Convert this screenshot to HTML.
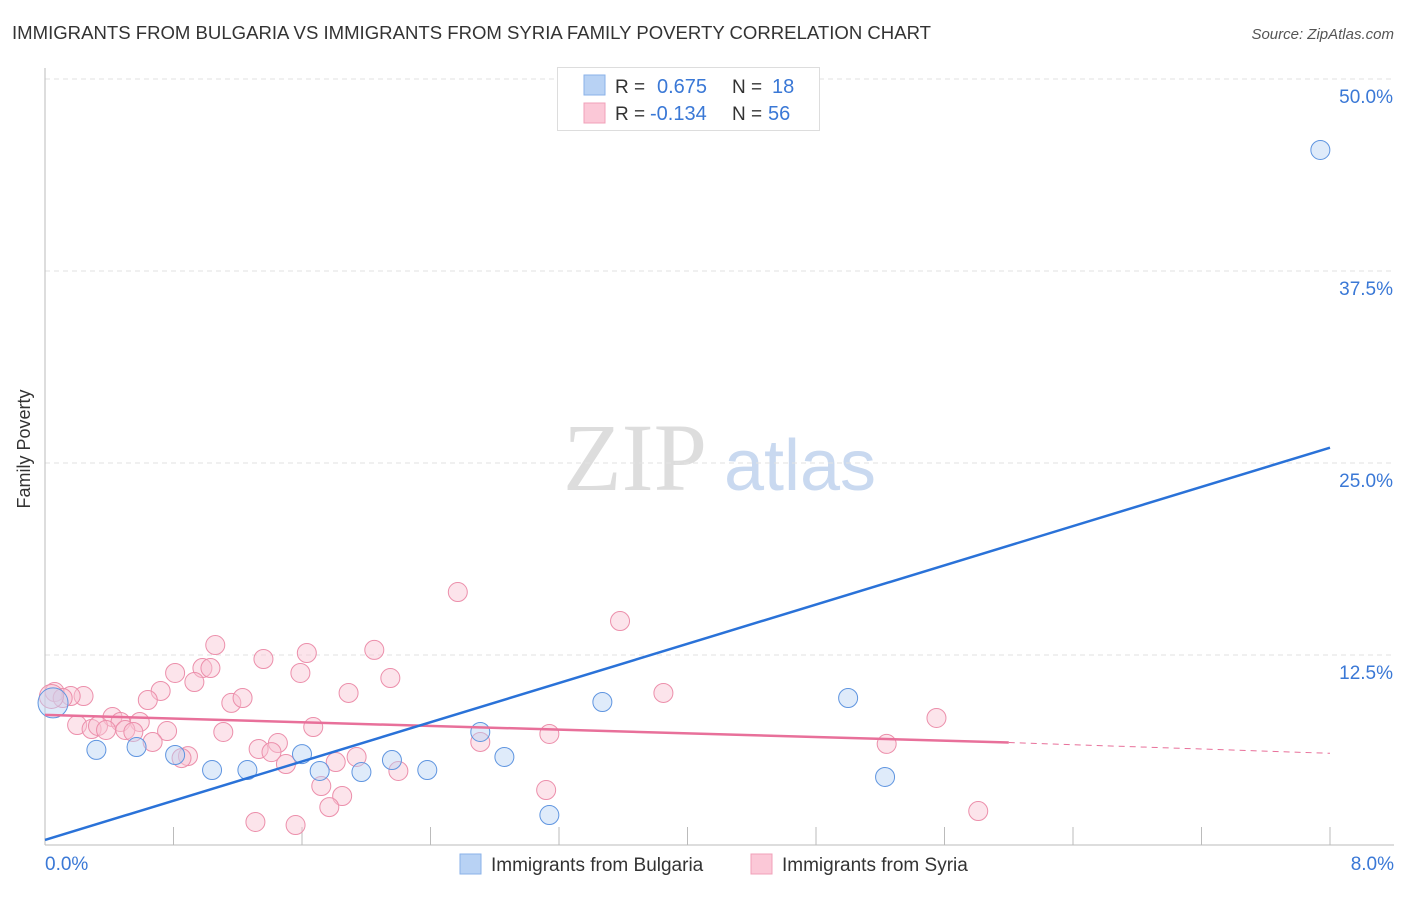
<!DOCTYPE html>
<html><head><meta charset="utf-8"><style>
body{margin:0;background:#fff;font-family:"Liberation Sans",sans-serif;}
svg text{font-family:"Liberation Sans",sans-serif;}
</style></head><body>
<svg id="chart" width="1406" height="892">
<text x="12" y="39" font-size="18" fill="#333" textLength="919" lengthAdjust="spacingAndGlyphs">IMMIGRANTS FROM BULGARIA VS IMMIGRANTS FROM SYRIA FAMILY POVERTY CORRELATION CHART</text>
<text x="1394" y="39" font-size="15" fill="#555" text-anchor="end" font-style="italic">Source: ZipAtlas.com</text>
<text x="38" y="457" font-size="18" fill="#333" text-anchor="middle" transform="rotate(-90 30 457)">Family Poverty</text>
<g>
<text x="635" y="490" font-size="96" fill="#ddd" text-anchor="middle" style="font-family:'Liberation Serif',serif">ZIP</text>
<text x="800" y="490" font-size="72" fill="#c9d9f0" text-anchor="middle">atlas</text>
</g>
<g id="grid"></g><g id="axes"></g><g id="marks"></g>
<g>
<rect x="557.5" y="67.5" width="262" height="63" fill="#fff" stroke="#ddd"/>
<rect x="584" y="75" width="21" height="20" fill="#b8d2f4" stroke="#8ab2e8"/>
<rect x="584" y="103" width="21" height="20" fill="#fbc8d7" stroke="#f0a0b8"/>
<text x="615" y="93" font-size="19" fill="#333">R = </text>
<text x="657" y="93" font-size="20" fill="#3a78d6">0.675</text>
<text x="732" y="93" font-size="19" fill="#333">N = </text>
<text x="772" y="93" font-size="20" fill="#3a78d6">18</text>
<text x="615" y="120" font-size="19" fill="#333">R = </text>
<text x="650" y="120" font-size="20" fill="#3a78d6">-0.134</text>
<text x="732" y="120" font-size="19" fill="#333">N = </text>
<text x="768" y="120" font-size="20" fill="#3a78d6">56</text>
</g>
<g>
<rect x="460" y="854" width="21" height="20" fill="#b8d2f4" stroke="#8ab2e8"/>
<text x="491" y="871" font-size="19" fill="#333">Immigrants from Bulgaria</text>
<rect x="751" y="854" width="21" height="20" fill="#fbc8d7" stroke="#f0a0b8"/>
<text x="782" y="871" font-size="19" fill="#333">Immigrants from Syria</text>
</g>
</svg>
<script>
const yTicks=[12.5,25,37.5,50];
const yTickLabels=["12.5%","25.0%","37.5%","50.0%"];
const xTickLabels=["0.0%","8.0%"];
const bulgariaX=[0.05,0.32,0.57,0.81,1.04,1.26,1.60,1.71,1.97,2.16,2.38,2.71,2.86,3.47,3.14,5.00,5.23,7.94];
const bulgariaY=[9.38,6.32,6.51,5.99,5.01,5.01,6.05,4.95,4.88,5.66,5.01,7.49,5.86,9.44,2.08,9.70,4.56,45.38];
const syriaX=[2.57,1.06,0.98,1.03,0.81,0.93,0.72,0.64,1.36,1.63,1.59,2.05,2.15,1.89,1.16,1.23,0.24,0.16,0.06,0.11,0.42,0.47,0.59,0.20,0.29,0.33,0.38,0.50,0.55,0.76,0.67,1.11,1.67,1.33,1.45,1.41,0.89,0.85,1.50,1.81,1.94,2.20,1.72,1.85,1.77,1.31,1.56,2.71,3.58,3.85,3.14,3.12,5.55,5.24,5.81,0.04];
const syriaY=[16.60,13.15,11.65,11.65,11.33,10.74,10.16,9.57,12.24,12.63,11.33,12.83,11.00,10.03,9.38,9.70,9.83,9.83,10.09,9.70,8.46,8.14,8.14,7.94,7.68,7.88,7.62,7.62,7.49,7.55,6.84,7.49,7.81,6.38,6.77,6.18,5.92,5.79,5.40,5.53,5.86,4.95,3.97,3.32,2.60,1.63,1.43,6.84,14.71,10.03,7.36,3.71,8.40,6.71,2.34,9.8];
const blueTrend=[0.46,26.0];
const pinkTrend=[8.6,6.8,6.1];
const pinkTrendEndX=6.0;
const X=v=>45+v*160.625, Y=v=>847-v*15.36;
const NS="http://www.w3.org/2000/svg";
function mk(tag,attrs,parent){const e=document.createElementNS(NS,tag);for(const k in attrs)e.setAttribute(k,attrs[k]);document.getElementById(parent).appendChild(e);return e;}
yTicks.forEach((t,i)=>{
 const g=mk('line',{x1:45,x2:1394,y1:Y(t),y2:Y(t),stroke:'#e2e2e2','stroke-dasharray':'5,4'},'grid');
 
 
 const l=mk('text',{x:1393,y:Y(t)+24,'font-size':19,fill:'#3a78d6','text-anchor':'end'},'axes');
 l.textContent=yTickLabels[i];
 
 
});
const ax=mk('line',{x1:45,x2:45,y1:68,y2:845,stroke:'#bbb'},'axes');


const bx=mk('line',{x1:45,x2:1394,y1:845,y2:845,stroke:'#bbb'},'axes');


for(let i=1;i<=10;i++){const t=mk('line',{x1:X(i*0.8),x2:X(i*0.8),y1:827,y2:845,stroke:'#bbb'},'axes');
 
 }
[[0,'start',45],[8,'end',1394]].forEach((d,i)=>{const t=mk('text',{x:d[2],y:870,'font-size':19,fill:'#3a78d6','text-anchor':d[1]},'axes');t.textContent=xTickLabels[i];
 
 });
function dots(xs,ys,fill,stroke,name){xs.forEach((x,i)=>{const big=(i===0&&name==='bulgaria-point');
 const mid=(name==='syria-point'&&i===xs.length-1);
 const c=mk('circle',{cx:X(x),cy:Y(ys[i]),r:big?15:(mid?12:9.5),fill:fill,'fill-opacity':0.45,stroke:stroke,'stroke-width':1},'marks');
 
 });}
dots(syriaX,syriaY,'#f9c3d3','#ec8fab','syria-point');
dots(bulgariaX,bulgariaY,'#b8d2f4','#5f95e0','bulgaria-point');
const pl=mk('line',{x1:X(0),y1:Y(pinkTrend[0]),x2:X(pinkTrendEndX),y2:Y(pinkTrend[1]),stroke:'#e8709a','stroke-width':2.5},'marks');


const pd=mk('line',{x1:X(pinkTrendEndX),y1:Y(pinkTrend[1]),x2:X(8),y2:Y(pinkTrend[2]),stroke:'#e8709a','stroke-width':1,'stroke-dasharray':'6,5'},'marks');


const bl=mk('line',{x1:X(0),y1:Y(blueTrend[0]),x2:X(8),y2:Y(blueTrend[1]),stroke:'#2a72d8','stroke-width':2.5},'marks');


</script>
</body></html>
